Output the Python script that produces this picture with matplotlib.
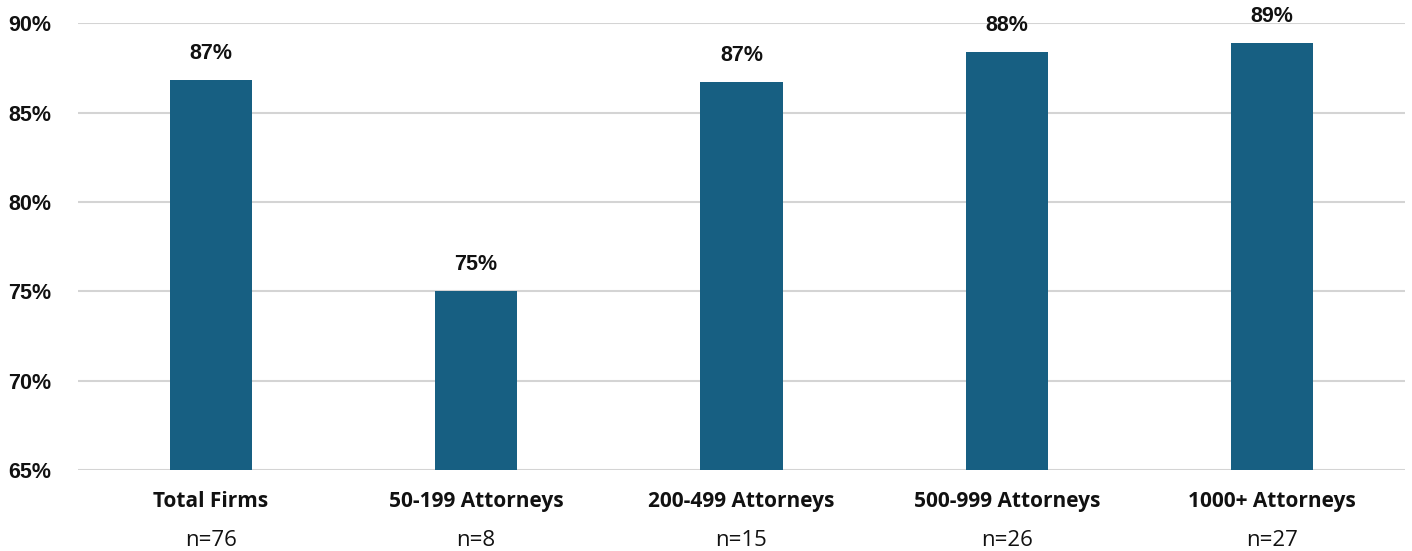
import matplotlib.pyplot as plt
from matplotlib.ticker import FuncFormatter

categories = ["Total Firms", "50-199 Attorneys", "200-499 Attorneys", "500-999 Attorneys", "1000+ Attorneys"]
sample_sizes = ["n=76", "n=8", "n=15", "n=26", "n=27"]
values = [86.8, 75.0, 86.7, 88.4, 88.9]
value_labels = ["87%", "75%", "87%", "88%", "89%"]

bar_color = "#175F82"

fig = plt.figure(figsize=(14.12, 5.51), dpi=100)
ax = fig.add_axes([0.0552, 0.147, 0.9398, 0.811])

x = range(len(categories))
bars = ax.bar(x, values, width=0.31, color=bar_color, zorder=3)

ax.set_ylim(65, 90)
ax.set_xlim(-0.5, len(categories) - 0.5)
ax.set_yticks(range(65, 91, 5))
ax.yaxis.set_major_formatter(FuncFormatter(lambda v, p: f"{v:.0f}%"))
ax.grid(axis="y", color="#d4d4d4", linewidth=1.5, zorder=0)

for s in ax.spines.values():
    s.set_visible(False)
ax.tick_params(axis="both", length=0)
ax.tick_params(axis="y", pad=50)
for lab in ax.get_yticklabels():
    lab.set_fontfamily("Liberation Sans")
    lab.set_fontweight("bold")
    lab.set_fontsize(15.5)
    lab.set_color("#111111")
    lab.set_horizontalalignment("left")

ax.set_xticks(list(x))
ax.set_xticklabels(categories, fontfamily="Open Sans", fontweight="bold", fontsize=15, color="#111111")
ax.tick_params(axis="x", pad=15)

for xi, n in zip(x, sample_sizes):
    ax.annotate(n, xy=(xi, 65), xytext=(0, -51), textcoords="offset points",
                ha="center", va="center", fontfamily="Open Sans", fontsize=16, color="#111111")

for b, lab in zip(bars, value_labels):
    ax.annotate(lab, xy=(b.get_x() + b.get_width() / 2, b.get_height()),
                xytext=(0, 19), textcoords="offset points", ha="center", va="center",
                fontfamily="Liberation Sans", fontweight="bold", fontsize=15.5, color="#111111")

fig.savefig("out.png", dpi=100)
